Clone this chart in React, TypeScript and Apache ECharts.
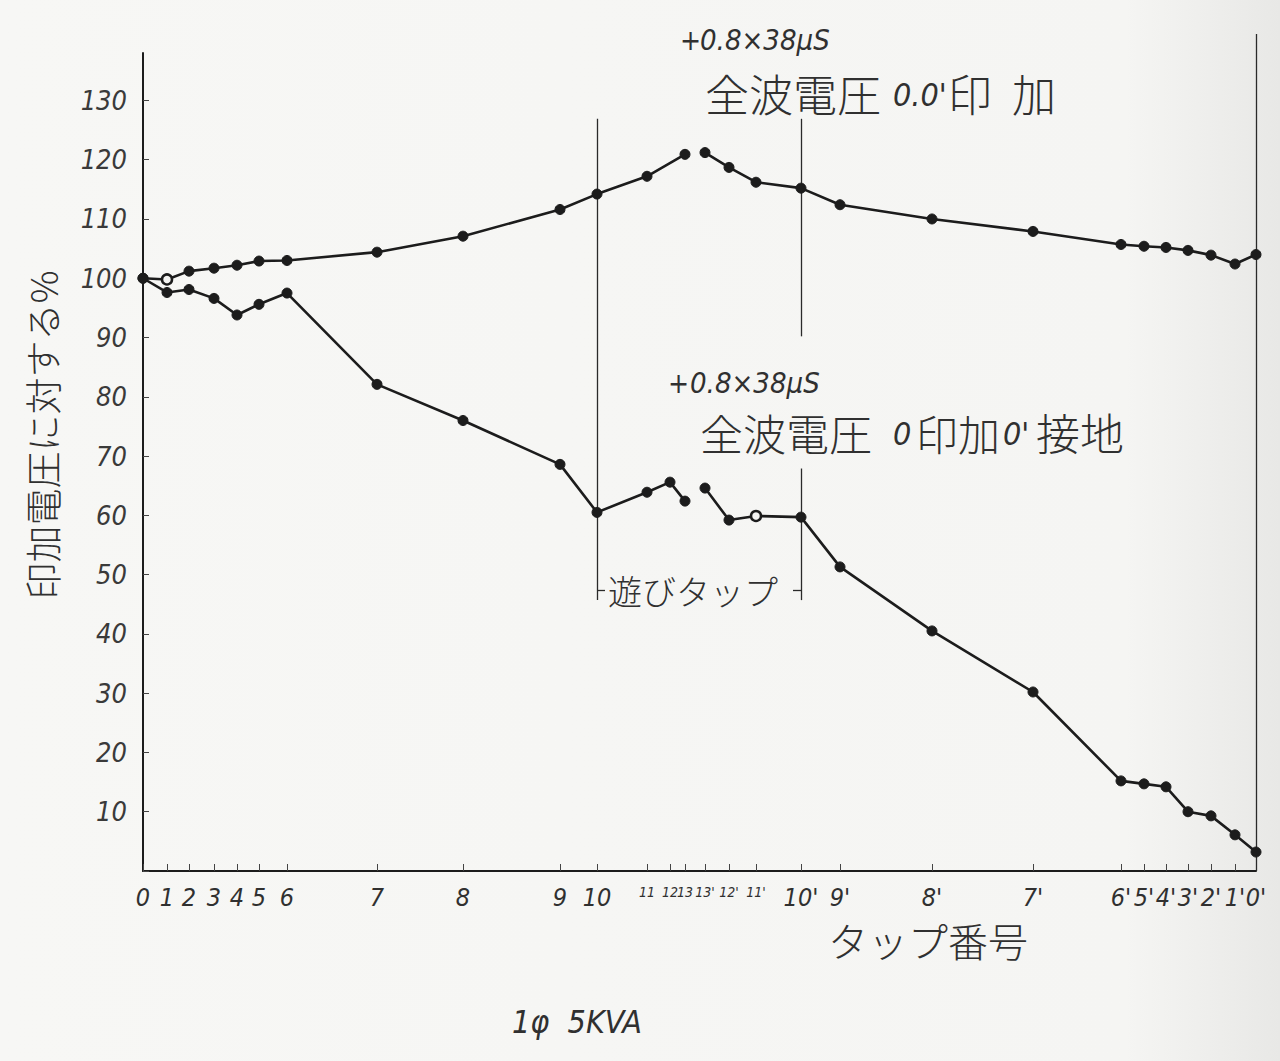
import React, { useEffect, useRef } from "react";
import * as echarts from "echarts";

// Tap numbers along the winding (x axis categories, non-uniform spacing)
const taps = ["0", "1", "2", "3", "4", "5", "6", "7", "8", "9", "10", "11", "12", "13",
  "13'", "12'", "11'", "10'", "9'", "8'", "7'", "6'", "5'", "4'", "3'", "2'", "1'", "0'"];
// Position of each tap along the axis (chart units, as drawn on the original sheet)
const tapX = [0, 24, 46, 71, 94, 116, 144, 234, 320, 417, 454, 504, 527, 542,
  562, 586, 613, 658, 697, 789, 890, 978, 1001, 1023, 1045, 1068, 1092, 1113];
// 全波電圧 0.0'印加 (%)
const upper = [100, 99.8, 101.2, 101.7, 102.2, 102.9, 103.0, 104.4, 107.1, 111.6, 114.2, 117.2, null, 120.9,
  121.2, 118.7, 116.2, 115.2, 112.4, 110.0, 107.9, 105.7, 105.4, 105.2, 104.7, 103.9, 102.4, 104.0];
// 全波電圧 0印加 0'接地 (%)
const lower = [100, 97.6, 98.1, 96.6, 93.8, 95.6, 97.5, 82.1, 76.0, 68.6, 60.5, 63.9, 65.6, 62.4,
  64.6, 59.2, 59.9, 59.7, 51.3, 40.5, 30.2, 15.2, 14.7, 14.2, 10.0, 9.3, 6.1, 3.2];
const hollowUpper = ["1"];
const hollowLower = ["11'"];
const smallLabels = ["11", "12", "13", "13'", "12'", "11'"];
// Y axis
const yMin = 0;
const yMax = 138;
const yInterval = 10;
// Guide segments: [x1, y1, x2, y2] in data units
const guides = [
  [454, 45.7, 454, 126.9],
  [658, 45.7, 658, 67.9],
  [658, 90.2, 658, 126.9],
  [454, 47.4, 462, 47.4],
  [650, 47.4, 658, 47.4],
  [1113, 0, 1113, 141.2],
];

const NUM_FONT = "'DejaVu Sans Condensed', 'DejaVu Sans', sans-serif";
const JP_FONT = "'Noto Sans CJK JP', 'Noto Sans CJK SC', sans-serif";
const INK = "#1c1c1c";
const TXT = "#303030";

function buildSeries(vals: (number | null)[], hollow: string[], name: string) {
  const split = taps.indexOf("13'");
  const mk = (from: number, to: number) => {
    const out: any[] = [];
    for (let i = from; i < to; i++) {
      const v = vals[i];
      if (v === null || v === undefined) continue;
      const item: any = { value: [tapX[i], v] };
      if (hollow.includes(taps[i])) {
        item.itemStyle = { color: "#f4f4f2", borderColor: INK, borderWidth: 2.5 };
      }
      out.push(item);
    }
    return out;
  };
  const base = {
    type: "line",
    name,
    symbol: "circle",
    symbolSize: 10,
    showSymbol: true,
    lineStyle: { color: INK, width: 2.6 },
    itemStyle: { color: INK, borderColor: INK, borderWidth: 1 },
    emphasis: { disabled: true },
    z: 5,
  };
  return [
    { ...base, data: mk(0, split) },
    { ...base, data: mk(split, taps.length) },
  ];
}

function tapLabel(v: number) {
  for (let i = 0; i < tapX.length; i++) {
    if (Math.abs(tapX[i] - v) < 0.5) {
      const t = taps[i];
      return smallLabels.includes(t) ? `{s|${t}}` : t;
    }
  }
  return "";
}

function txt(text: string, x: number, y: number, size: number, opts: any = {}) {
  return {
    type: "text",
    x,
    y,
    rotation: opts.rotation || 0,
    z: 10,
    style: {
      text,
      fill: opts.fill || TXT,
      fontSize: size,
      fontFamily: opts.family || JP_FONT,
      fontStyle: opts.italic ? "italic" : "normal",
      fontWeight: opts.weight || (opts.family ? "normal" : 300),
      align: opts.align || "left",
      verticalAlign: "middle",
    },
  };
}

export default function App() {
  const ref = useRef<HTMLDivElement>(null);
  useEffect(() => {
    if (!ref.current) return;
    const chart = echarts.init(ref.current, null, { renderer: "svg" });
    const option: any = {
      animation: false,
      backgroundColor: {
        type: "linear", x: 0, y: 0, x2: 1, y2: 0,
        colorStops: [
          { offset: 0, color: "#f7f7f5" },
          { offset: 0.88, color: "#f5f5f3" },
          { offset: 1, color: "#e8e8e6" },
        ],
      },
      grid: { left: 143, right: 24, top: 53, bottom: 190, containLabel: false },
      xAxis: {
        type: "value",
        min: tapX[0],
        max: tapX[tapX.length - 1],
        splitLine: { show: false },
        axisLine: { show: true, onZero: false, lineStyle: { color: INK, width: 2 } },
        axisTick: { show: true, inside: true, length: 7, customValues: tapX, lineStyle: { color: "#444", width: 1 } },
        axisLabel: {
          show: true,
          customValues: tapX,
          margin: 14,
          formatter: (v: number) => tapLabel(v),
          color: TXT,
          fontFamily: NUM_FONT,
          fontStyle: "italic",
          fontSize: 25,
          rich: { s: { fontSize: 14, fontFamily: NUM_FONT, fontStyle: "italic", color: TXT } },
        },
      },
      yAxis: {
        type: "value",
        min: yMin,
        max: yMax,
        interval: yInterval,
        splitLine: { show: false },
        axisLine: { show: true, onZero: false, lineStyle: { color: INK, width: 2 } },
        axisTick: { show: true, inside: true, length: 6, lineStyle: { color: "#444", width: 1 } },
        axisLabel: {
          margin: 16,
          showMaxLabel: false,
          formatter: (v: number) => (v > 0 && v % 10 === 0 && v <= 130 ? String(v) : ""),
          color: "#3a3a3a",
          fontFamily: NUM_FONT,
          fontStyle: "italic",
          fontSize: 27,
        },
      },
      series: [
        ...buildSeries(upper, hollowUpper, "全波電圧 0.0'印加"),
        ...buildSeries(lower, hollowLower, "全波電圧 0印加0'接地"),
        {
          type: "lines",
          coordinateSystem: "cartesian2d",
          clip: false,
          silent: true,
          lineStyle: { color: "#2a2a2a", width: 1.3, opacity: 1 },
          data: guides.map((g) => ({ coords: [[g[0], g[1]], [g[2], g[3]]] })),
          z: 3,
        },
      ],
      graphic: [
        // top annotation
        txt("+", 680, 40, 28, { family: NUM_FONT }),
        txt("0.8×38μS", 700, 40, 29, { family: NUM_FONT, italic: true }),
        txt("全波電圧", 705, 93, 44),
        txt("0.0'", 893, 95, 32, { family: NUM_FONT, italic: true }),
        txt("印", 948, 93, 44),
        txt("加", 1012, 93, 44),
        // lower annotation
        txt("+", 668, 383, 28, { family: NUM_FONT }),
        txt("0.8×38μS", 690, 383, 29, { family: NUM_FONT, italic: true }),
        txt("全波電圧", 700, 432, 43),
        txt("0", 893, 434, 32, { family: NUM_FONT, italic: true }),
        txt("印加", 916, 432, 42),
        txt("0'", 1003, 434, 32, { family: NUM_FONT, italic: true }),
        txt("接地", 1036, 432, 44),
        // 遊びタップ
        txt("遊びタップ", 608, 590, 34),
        // axis titles
        txt("印加電圧に対する%", 42, 435, 37, { rotation: Math.PI / 2, align: "center" }),
        txt("タップ番号", 928, 940, 40, { align: "center" }),
        txt("1φ  5KVA", 577, 1022, 32, { family: NUM_FONT, italic: true, align: "center" }),
      ],
    };
    chart.setOption(option);
    return () => chart.dispose();
  }, []);
  return (
    <div
      ref={ref}
      style={{ position: "fixed", left: 0, top: 0, width: 1280, height: 1061 }}
    />
  );
}
